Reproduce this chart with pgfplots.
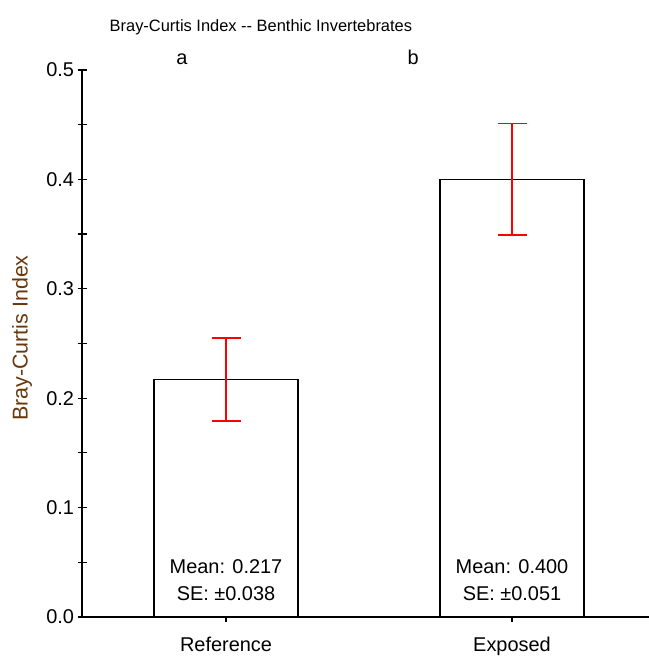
\documentclass[border=0pt]{standalone}
\usepackage{fontspec}
\setmainfont{Liberation Sans}
\usepackage{pgfplots}
\pgfplotsset{compat=1.18}
\definecolor{ylab}{RGB}{105,55,10}
\newcommand{\lf}{\fontsize{20}{24}\selectfont}
\begin{document}
\begin{tikzpicture}[x=1bp,y=1bp]
\path[use as bounding box] (0,0) rectangle (649,659);
\begin{axis}[
  at={(82bp,42bp)}, anchor=south west,
  scale only axis, width=567bp, height=547bp,
  xmin=-0.5035, xmax=1.479, ymin=0, ymax=0.5,
  axis x line=bottom, axis y line=left,
  axis line style={-, line width=1.5bp, black},
  xtick={0,1}, xticklabels={Reference,Exposed},
  ytick={0,0.1,0.2,0.3,0.4,0.5},
  minor y tick num=1,
  tick align=center,
  major tick length=9bp, minor tick length=9bp,
  every tick/.style={black, line width=1.2bp},
  /pgf/number format/assume math mode=true,
  /pgf/number format/.cd, fixed, fixed zerofill, precision=1,
  /pgfplots/.cd,
  tick label style={font=\lf},
  xticklabel style={yshift=-12bp},
  clip=false,
]
\addplot[ybar, bar width=0.503, fill=white, draw=black, line width=1.5bp,
  error bars/.cd, y dir=both, y explicit,
  error bar style={red, line width=1.5bp},
  error mark options={rotate=90, mark size=14.5bp, red, line width=1.5bp}]
  coordinates {(0,0.217) +- (0,0.038) (1,0.400) +- (0,0.051)};
\node[font=\fontsize{16.5}{20}\selectfont, anchor=base] at (axis cs:0.122,0.5356) {Bray-Curtis Index -{}- Benthic Invertebrates};
\node[font=\lf, anchor=base] at (axis cs:-0.154,0.5046) {a};
\node[font=\lf, anchor=base] at (axis cs:0.654,0.5046) {b};
\node[font=\lf] at (axis cs:0,0.0457) {Mean: 0.217};
\node[font=\lf] at (axis cs:0,0.021) {SE: ±0.038};
\node[font=\lf] at (axis cs:1,0.0457) {Mean: 0.400};
\node[font=\lf] at (axis cs:1,0.021) {SE: ±0.051};
\node[font=\fontsize{21.5}{24}\selectfont, rotate=90, text=ylab] at (axis cs:-0.713,0.255) {Bray-Curtis Index};
\end{axis}
\end{tikzpicture}
\end{document}
